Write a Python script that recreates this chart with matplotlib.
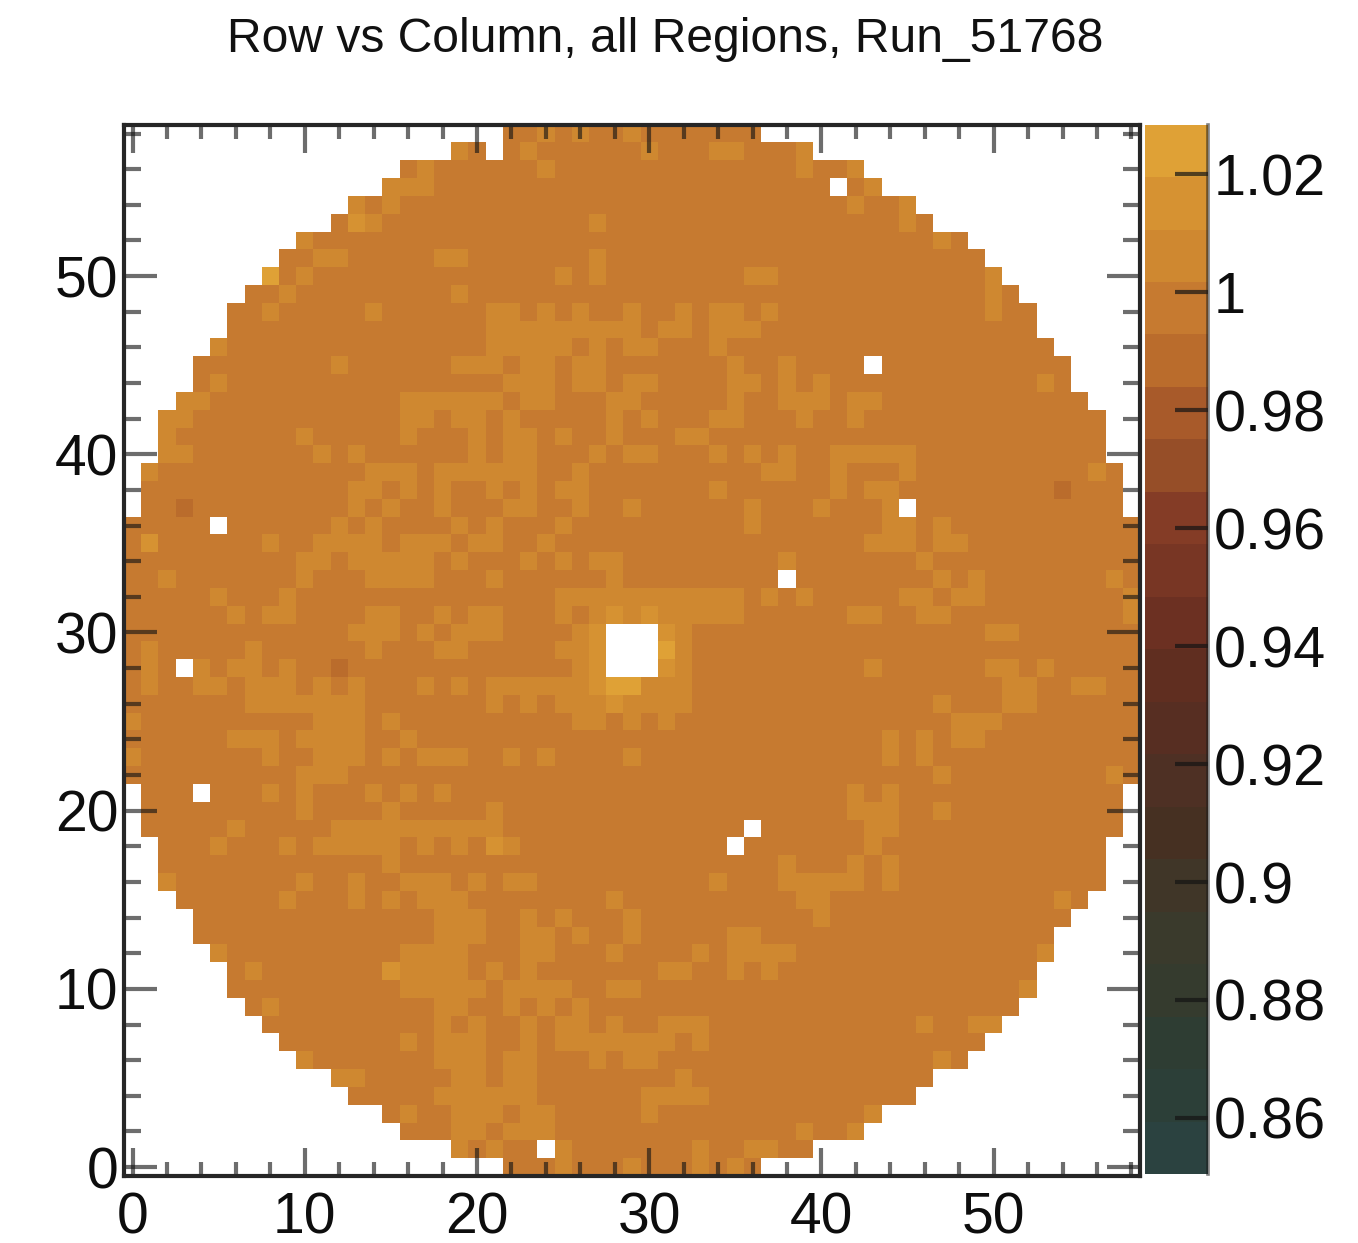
import numpy as np
import matplotlib
matplotlib.use("Agg")
import matplotlib.pyplot as plt
from matplotlib.colors import ListedColormap, BoundaryNorm
from matplotlib.ticker import MultipleLocator

plt.rcParams['font.family'] = ['Liberation Sans', 'DejaVu Sans']

TITLE = "Row vs Column, all Regions, Run_51768"
N_BINS = 59
COLORBAR_TICKS = [0.86, 0.88, 0.90, 0.92, 0.94, 0.96, 0.98, 1.00, 1.02]
COLORBAR_LABELS = ["0.86", "0.88", "0.9", "0.92", "0.94", "0.96", "0.98", "1", "1.02"]
COLOR_MIN = 0.8505
COLOR_MAX = 1.0284
LEVEL_COLORS = ["#2B4240", "#2C3F38", "#2E3D33", "#353B2E", "#3A3A2C",
                "#403628", "#463022", "#4E3024", "#572E22", "#602E20",
                "#6C3022", "#783624", "#843C26", "#964E28", "#A85A2A",
                "#BA6C2C", "#C67A30", "#CF8830", "#D69232", "#DFA136"]

# value read for each shade of cell
VALUE_DARK = 0.988
VALUE_BASE = 0.997
VALUE_LIGHT = 1.006
VALUE_BRIGHT = 1.015
VALUE_TOP = 1.024

# first and last filled column of every row, row 0 first
ROW_FIRST = [22, 19, 16, 15, 13, 12, 10, 9, 8, 7, 6, 6, 5, 4, 4, 3, 2, 2, 2, 1,
             1, 1, 0, 0, 0, 0, 0, 0, 0, 0, 0, 0, 0, 0, 0, 0, 0, 1, 1, 1,
             2, 2, 2, 3, 4, 4, 5, 6, 6, 7, 8, 9, 10, 12, 13, 15, 16, 19, 22]
ROW_LAST = [36, 39, 42, 43, 45, 46, 48, 49, 50, 51, 52, 52, 53, 53, 54, 55, 56, 56, 56, 57,
            57, 57, 58, 58, 58, 58, 58, 58, 58, 58, 58, 58, 58, 58, 58, 58, 58, 57, 57, 57,
            56, 56, 56, 55, 54, 54, 53, 52, 52, 51, 50, 49, 48, 46, 45, 43, 42, 39, 36]

# (row, column) of empty cells inside the disc
EMPTY_CELLS = [(57, 21), (55, 41), (45, 43), (37, 45), (36, 5), (33, 38),
               (30, 28), (30, 29), (30, 30), (29, 28), (29, 29), (29, 30),
               (28, 3), (28, 28), (28, 29), (28, 30), (21, 4), (19, 36),
               (18, 35), (1, 24)]
DARK_CELLS = [(38, 54), (37, 3), (28, 12)]
BRIGHT_CELLS = [(53, 13), (35, 1), (31, 28), (31, 30), (30, 27), (30, 31), (29, 27),
                (28, 27), (28, 31), (27, 27), (26, 28), (18, 21), (11, 15)]
TOP_CELLS = [(50, 8), (29, 31), (27, 28), (27, 29)]

# columns of the lighter cells in each row, row 58 first
LIGHT_ROW_58 = [24, 26, 29]
LIGHT_ROW_57 = [19, 23, 30, 34, 35, 39]
LIGHT_ROW_56 = [17, 24, 39, 42]
LIGHT_ROW_55 = [15, 16, 17, 43]
LIGHT_ROW_54 = [13, 15, 42, 45]
LIGHT_ROW_53 = [14, 27, 45]
LIGHT_ROW_52 = [10, 47]
LIGHT_ROW_51 = [11, 12, 18, 19, 27]
LIGHT_ROW_50 = [10, 25, 27, 36, 37, 50]
LIGHT_ROW_49 = [9, 19, 50]
LIGHT_ROW_48 = [8, 14, 21, 22, 24, 26, 29, 32, 34, 35, 37, 50]
LIGHT_ROW_47 = [21, 22, 23, 24, 25, 26, 27, 28, 29, 31, 32, 34, 35, 36]
LIGHT_ROW_46 = [5, 21, 22, 23, 24, 25, 27, 29, 30, 34]
LIGHT_ROW_45 = [12, 19, 20, 21, 23, 24, 26, 27, 35, 38]
LIGHT_ROW_44 = [5, 22, 23, 24, 26, 27, 29, 30, 35, 36, 38, 40, 53]
LIGHT_ROW_43 = [3, 4, 16, 17, 18, 19, 20, 21, 23, 24, 28, 29, 35, 38, 39, 40, 42, 43]
LIGHT_ROW_42 = [2, 3, 16, 17, 19, 20, 22, 28, 30, 34, 35, 39, 42]
LIGHT_ROW_41 = [2, 10, 16, 20, 22, 23, 25, 28, 32, 33]
LIGHT_ROW_40 = [2, 3, 11, 13, 20, 22, 23, 27, 29, 30, 34, 36, 38, 41, 42, 43, 44, 45]
LIGHT_ROW_39 = [1, 14, 15, 16, 18, 19, 20, 21, 22, 23, 26, 37, 38, 41, 45, 56]
LIGHT_ROW_38 = [13, 14, 16, 18, 21, 23, 25, 26, 34, 41, 43, 44]
LIGHT_ROW_37 = [13, 15, 18, 22, 23, 26, 29, 36, 40, 44]
LIGHT_ROW_36 = [12, 14, 19, 21, 25, 36, 44, 45, 47]
LIGHT_ROW_35 = [8, 11, 12, 13, 14, 16, 17, 18, 20, 21, 24, 43, 44, 45, 47, 48]
LIGHT_ROW_34 = [10, 11, 13, 14, 15, 16, 17, 19, 23, 25, 27, 28, 38, 46]
LIGHT_ROW_33 = [2, 10, 14, 15, 16, 17, 21, 28, 47, 49, 57]
LIGHT_ROW_32 = [5, 9, 25, 26, 27, 28, 29, 30, 31, 32, 33, 34, 35, 37, 39, 45, 46, 48, 49, 58]
LIGHT_ROW_31 = [6, 8, 9, 14, 15, 18, 20, 21, 25, 27, 29, 31, 32, 33, 34, 35, 42, 43, 46, 47, 58]
LIGHT_ROW_30 = [13, 14, 15, 17, 19, 20, 21, 26, 32, 50, 51]
LIGHT_ROW_29 = [1, 7, 14, 18, 19, 25, 26, 32]
LIGHT_ROW_28 = [1, 4, 6, 7, 9, 26, 32, 43, 50, 51, 53]
LIGHT_ROW_27 = [1, 4, 5, 7, 8, 9, 11, 13, 17, 19, 21, 22, 23, 24, 25, 26, 30, 31, 32, 51, 52, 55, 56]
LIGHT_ROW_26 = [7, 8, 9, 10, 11, 12, 13, 21, 23, 25, 26, 27, 29, 30, 31, 32, 47, 51, 52]
LIGHT_ROW_25 = [0, 11, 12, 13, 15, 26, 27, 29, 31, 48, 49, 50]
LIGHT_ROW_24 = [6, 7, 8, 10, 11, 12, 13, 16, 44, 46, 48, 49]
LIGHT_ROW_23 = [0, 8, 11, 12, 13, 15, 17, 18, 19, 22, 24, 29, 44, 46]
LIGHT_ROW_22 = [10, 11, 12, 47, 57]
LIGHT_ROW_21 = [8, 10, 14, 16, 18, 42, 44]
LIGHT_ROW_20 = [10, 15, 21, 42, 43, 44, 47]
LIGHT_ROW_19 = [6, 12, 13, 14, 15, 16, 17, 18, 19, 20, 21, 43, 44]
LIGHT_ROW_18 = [5, 9, 11, 12, 13, 14, 15, 17, 19, 22, 43]
LIGHT_ROW_17 = [15, 38, 42, 44]
LIGHT_ROW_16 = [2, 10, 13, 16, 17, 18, 20, 22, 23, 34, 38, 39, 40, 41, 42, 44]
LIGHT_ROW_15 = [9, 13, 15, 17, 18, 19, 28, 39, 40, 54]
LIGHT_ROW_14 = [18, 19, 20, 23, 25, 29, 40]
LIGHT_ROW_13 = [18, 19, 20, 23, 24, 26, 29, 35, 36]
LIGHT_ROW_12 = [5, 16, 17, 18, 19, 23, 24, 28, 33, 35, 36, 37, 38, 53]
LIGHT_ROW_11 = [7, 16, 17, 18, 19, 21, 23, 31, 32, 35, 37]
LIGHT_ROW_10 = [16, 17, 18, 19, 20, 22, 23, 24, 25, 28, 29, 52]
LIGHT_ROW_9 = [8, 18, 19, 22, 24, 26]
LIGHT_ROW_8 = [18, 20, 23, 25, 26, 28, 31, 32, 33, 46, 49, 50]
LIGHT_ROW_7 = [16, 18, 19, 20, 23, 25, 26, 27, 28, 29, 30, 31, 33]
LIGHT_ROW_6 = [10, 18, 19, 20, 22, 23, 27, 29, 30, 47]
LIGHT_ROW_5 = [12, 13, 19, 20, 22, 23, 32]
LIGHT_ROW_4 = [18, 19, 20, 21, 22, 23, 30, 31, 32, 33]
LIGHT_ROW_3 = [16, 19, 20, 21, 23, 24, 30, 43]
LIGHT_ROW_2 = [19, 20, 22, 23, 24, 39, 42]
LIGHT_ROW_1 = [19, 21, 25, 33, 36, 37]
LIGHT_ROW_0 = [25, 29, 33, 35]

LIGHT_ROWS = [LIGHT_ROW_0, LIGHT_ROW_1, LIGHT_ROW_2, LIGHT_ROW_3, LIGHT_ROW_4, LIGHT_ROW_5,
              LIGHT_ROW_6, LIGHT_ROW_7, LIGHT_ROW_8, LIGHT_ROW_9, LIGHT_ROW_10, LIGHT_ROW_11,
              LIGHT_ROW_12, LIGHT_ROW_13, LIGHT_ROW_14, LIGHT_ROW_15, LIGHT_ROW_16, LIGHT_ROW_17,
              LIGHT_ROW_18, LIGHT_ROW_19, LIGHT_ROW_20, LIGHT_ROW_21, LIGHT_ROW_22, LIGHT_ROW_23,
              LIGHT_ROW_24, LIGHT_ROW_25, LIGHT_ROW_26, LIGHT_ROW_27, LIGHT_ROW_28, LIGHT_ROW_29,
              LIGHT_ROW_30, LIGHT_ROW_31, LIGHT_ROW_32, LIGHT_ROW_33, LIGHT_ROW_34, LIGHT_ROW_35,
              LIGHT_ROW_36, LIGHT_ROW_37, LIGHT_ROW_38, LIGHT_ROW_39, LIGHT_ROW_40, LIGHT_ROW_41,
              LIGHT_ROW_42, LIGHT_ROW_43, LIGHT_ROW_44, LIGHT_ROW_45, LIGHT_ROW_46, LIGHT_ROW_47,
              LIGHT_ROW_48, LIGHT_ROW_49, LIGHT_ROW_50, LIGHT_ROW_51, LIGHT_ROW_52, LIGHT_ROW_53,
              LIGHT_ROW_54, LIGHT_ROW_55, LIGHT_ROW_56, LIGHT_ROW_57, LIGHT_ROW_58]

# assemble the grid
grid = np.full((N_BINS, N_BINS), np.nan)
for r in range(N_BINS):
    grid[r, ROW_FIRST[r]:ROW_LAST[r] + 1] = VALUE_BASE
    grid[r, LIGHT_ROWS[r]] = VALUE_LIGHT
for cells, value in [(DARK_CELLS, VALUE_DARK), (BRIGHT_CELLS, VALUE_BRIGHT),
                     (TOP_CELLS, VALUE_TOP), (EMPTY_CELLS, np.nan)]:
    for r, c in cells:
        grid[r, c] = value

W, H = 1358, 1243
fig = plt.figure(figsize=(W / 100, H / 100), dpi=100, facecolor="white")


def box(x0, x1, y0, y1):
    return [x0 / W, 1 - y1 / H, (x1 - x0) / W, (y1 - y0) / H]


ax = fig.add_axes(box(124, 1140, 124.6, 1176))
cax = fig.add_axes(box(1145, 1208, 124.6, 1174))

levels = np.linspace(COLOR_MIN, COLOR_MAX, len(LEVEL_COLORS) + 1)
cmap = ListedColormap(LEVEL_COLORS)
cmap.set_bad((1, 1, 1, 0))
norm = BoundaryNorm(levels, cmap.N)

edges = np.arange(N_BINS + 1) - 0.5
mesh = ax.pcolormesh(edges, edges, np.ma.masked_invalid(grid), cmap=cmap, norm=norm,
                     linewidth=0, antialiased=False, zorder=1)
ax.set_xlim(-0.5, 58.5)
ax.set_ylim(-0.5, 58.5)
ax.set_axisbelow(False)

tick_color = (0.08, 0.08, 0.08, 0.62)
frame_color = "#262626"
for s in ax.spines.values():
    s.set_linewidth(3.0)
    s.set_color(frame_color)
    s.set_zorder(5)

TICK_W = 3.0
ax.xaxis.set_major_locator(MultipleLocator(10))
ax.xaxis.set_minor_locator(MultipleLocator(2))
ax.yaxis.set_major_locator(MultipleLocator(10))
ax.yaxis.set_minor_locator(MultipleLocator(2))
ax.tick_params(axis="x", which="major", direction="in", top=True, bottom=True, length=20,
               width=TICK_W, color=tick_color, labelsize=41, pad=11, labelcolor="#0d0d0d")
ax.tick_params(axis="x", which="minor", direction="in", top=True, bottom=True, length=10,
               width=TICK_W, color=tick_color)
ax.tick_params(axis="y", which="major", direction="in", left=True, right=True, length=24,
               width=TICK_W, color=tick_color, labelsize=41, pad=4, labelcolor="#0d0d0d")
ax.tick_params(axis="y", which="minor", direction="in", left=True, right=True, length=12,
               width=TICK_W, color=tick_color)

cb = fig.colorbar(mesh, cax=cax, spacing="proportional", ticks=COLORBAR_TICKS, drawedges=False)
cb.set_ticklabels(COLORBAR_LABELS)
cb.minorticks_off()
cb.outline.set_visible(False)
cax.tick_params(axis="y", which="major", direction="in", right=True, left=False, length=24,
                width=TICK_W, color=(0.08, 0.08, 0.08, 0.7), labelsize=41.5, pad=4,
                labelcolor="#0d0d0d")
cax.plot([1, 1], [0, 1], transform=cax.transAxes, color=(0.1, 0.1, 0.1, 0.55),
         linewidth=2.6, clip_on=False, zorder=6)

fig.text(665 / W, 1 - 39 / H, TITLE, ha="center", va="center", fontsize=34.6, color="#111111")

fig.savefig("out.png", dpi=100, facecolor="white")
